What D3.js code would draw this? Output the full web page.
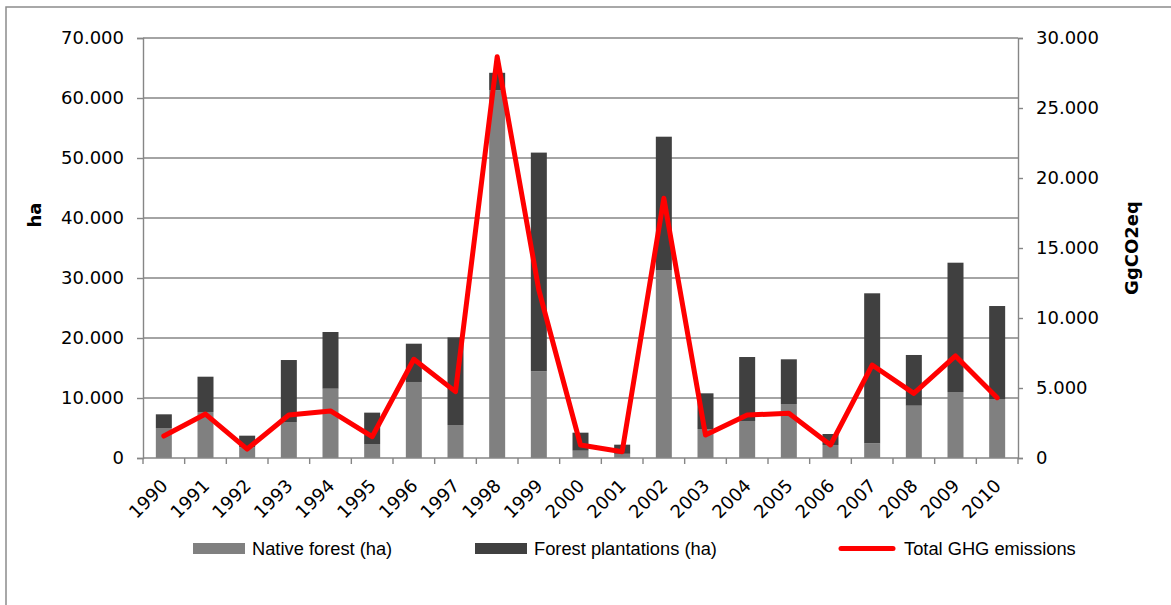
<!DOCTYPE html>
<html><head><meta charset="utf-8">
<script src="https://cdn.jsdelivr.net/npm/d3@7"></script>
<style>
html,body{margin:0;padding:0;background:#fff;}
svg{display:block;}
</style></head>
<body>
<svg id="chart" width="1171" height="605"></svg>
<script>
const years = ["1990","1991","1992","1993","1994","1995","1996","1997","1998","1999","2000","2001","2002","2003","2004","2005","2006","2007","2008","2009","2010"];
const nativeForest = [5000,7670,1800,6000,11550,2330,12670,5500,61300,14450,1220,700,31330,4830,6170,9000,2170,2450,8720,11000,9830];
const forestPlantations = [2280,5880,1920,10330,9450,5230,6380,14600,2900,36450,3000,1520,22220,5950,10660,7450,1830,25000,8450,21550,15500];
const ghgEmissions = [1570,3140,640,3070,3360,1520,7050,4740,28660,12000,930,450,18550,1640,3070,3190,930,6640,4620,7290,4310];
const leftTicks = [0,10000,20000,30000,40000,50000,60000,70000];
const rightTicks = [0,5000,10000,15000,20000,25000,30000];
const seriesNames = ["Native forest (ha)","Forest plantations (ha)","Total GHG emissions"];

const svg = d3.select("#chart");
const L = 143, R = 1018, T = 38, B = 458;
const gridColor = "#868686";
const fmt = v => v === 0 ? "0" : d3.format(",")(v).replace(/,/g, ".");
const tickFont = "'DejaVu Sans', Verdana, sans-serif";

// outer border
svg.append("rect").attr("x",6).attr("y",7).attr("width",1200).attr("height",640)
  .attr("fill","none").attr("stroke","#8c8c8c").attr("stroke-width",1.5);

const x = d3.scaleBand().domain(years).range([L,R]).paddingInner(0.616).paddingOuter(0.308);
const yL = d3.scaleLinear().domain([0,70000]).range([B,T]);
const yR = d3.scaleLinear().domain([0,30000]).range([B,T]);

// gridlines
svg.append("g").selectAll("line").data(leftTicks.filter(d=>d>0)).join("line")
  .attr("x1",L).attr("x2",R).attr("y1",d=>yL(d)).attr("y2",d=>yL(d))
  .attr("stroke",gridColor).attr("stroke-width",1.4);

// stacked bars
const data = years.map((y,i)=>({year:y, nat:nativeForest[i], pla:forestPlantations[i], ghg:ghgEmissions[i]}));
const stack = d3.stack().keys(["nat","pla"])(data);
const colors = {nat:"#808080", pla:"#404040"};
svg.append("g").selectAll("g").data(stack).join("g")
  .attr("fill", s => colors[s.key])
  .selectAll("rect").data(s=>s).join("rect")
  .attr("x", d=>x(d.data.year)).attr("width", x.bandwidth())
  .attr("y", d=>yL(d[1])).attr("height", d=>yL(d[0])-yL(d[1]));

// axes
const axisStyle = g => {
  g.select(".domain").attr("stroke",gridColor).attr("stroke-width",1.4);
  g.selectAll(".tick line").attr("stroke",gridColor).attr("stroke-width",1.4);
  g.selectAll("text").attr("font-family",tickFont).attr("font-size",18).attr("fill","#000");
};
svg.append("g").attr("transform",`translate(${L},0)`)
  .call(d3.axisLeft(yL).tickValues(leftTicks).tickFormat(fmt).tickSizeOuter(0).tickSize(6).tickPadding(13))
  .call(axisStyle);
svg.append("g").attr("transform",`translate(${R},0)`)
  .call(d3.axisRight(yR).tickValues(rightTicks).tickFormat(fmt).tickSizeOuter(0).tickSize(5).tickPadding(13))
  .call(axisStyle);

// x axis line and boundary ticks
const xg = svg.append("g");
xg.append("line").attr("x1",L).attr("x2",R).attr("y1",B).attr("y2",B)
  .attr("stroke",gridColor).attr("stroke-width",1.4);
const bounds = years.map(y=>x(y)-x.step()*x.paddingOuter()).concat([R]);
xg.selectAll("line.tk").data(bounds).join("line").attr("class","tk")
  .attr("x1",d=>d).attr("x2",d=>d).attr("y1",B).attr("y2",B+6)
  .attr("stroke",gridColor).attr("stroke-width",1.4);
xg.selectAll("text").data(years).join("text")
  .attr("transform", d=>`translate(${x(d)+x.bandwidth()/2+5},487) rotate(-45)`)
  .attr("text-anchor","end")
  .attr("font-family",tickFont).attr("font-size",18)
  .text(d=>d);

// line
const line = d3.line().x(d=>x(d.year)+x.bandwidth()/2).y(d=>yR(d.ghg));
svg.append("path").datum(data).attr("d",line).attr("fill","none")
  .attr("stroke","#ff0000").attr("stroke-width",5).attr("stroke-linejoin","round").attr("stroke-linecap","round");

// axis titles
svg.append("text").attr("transform","translate(41,215) rotate(-90)").attr("text-anchor","middle")
  .attr("font-family",tickFont).attr("font-weight","bold").attr("font-size",18)
  .text("ha");
svg.append("text").attr("transform","translate(1138,248) rotate(-90)").attr("text-anchor","middle")
  .attr("font-family",tickFont).attr("font-weight","bold").attr("font-size",18)
  .text("GgCO2eq");

// legend
const lg = svg.append("g").attr("font-family","'Liberation Sans', Arial, sans-serif").attr("font-size",18.3);
const legendItems = [
  {name:seriesNames[0], x:193, type:"rect", color:"#808080"},
  {name:seriesNames[1], x:475, type:"rect", color:"#404040"},
  {name:seriesNames[2], x:838, type:"line", color:"#ff0000"}
];
legendItems.forEach(it=>{
  if(it.type==="rect"){
    lg.append("rect").attr("x",it.x).attr("y",543).attr("width",52).attr("height",11).attr("fill",it.color);
  } else {
    lg.append("line").attr("x1",it.x+3).attr("x2",it.x+55).attr("y1",548.5).attr("y2",548.5)
      .attr("stroke",it.color).attr("stroke-width",5).attr("stroke-linecap","round");
  }
  lg.append("text").attr("x",it.x+(it.type==="rect"?59:66)).attr("y",555).text(it.name);
});
</script>
</body></html>
